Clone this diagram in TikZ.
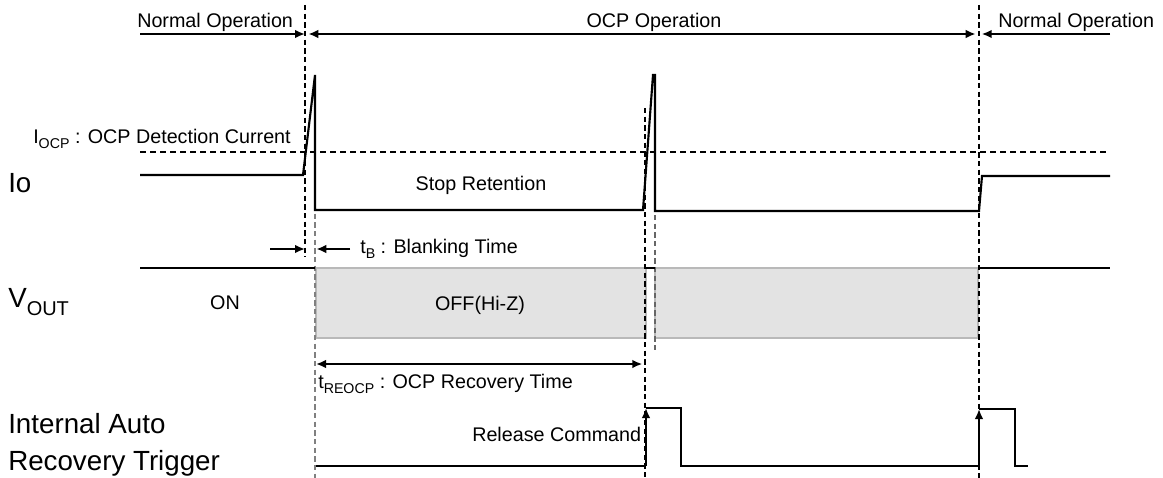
\documentclass[tikz,border=0pt]{standalone}
\usepackage{fontspec}
\setmainfont{Liberation Sans}
\usetikzlibrary{positioning, arrows.meta}

% lowered small text for subscripts
\newcommand{\lowtext}[1]{\raisebox{-0.3em}{\scalebox{0.72}{#1}}}

\begin{document}
\begin{tikzpicture}[
    x=0.75pt, y=-0.75pt,
    >={Latex[length=7.5pt,width=6.5pt]}, % filled arrow tips
    % Styles
    small/.style={ % labels in the diagram
        font=\fontsize{14.8}{17}\selectfont,
        inner sep=0pt
    },
    big/.style={ % signal names on the left
        font=\fontsize{20.8}{25}\selectfont,
        inner sep=0pt
    },
    wave/.style={ % signal lines
        line width=1.6pt
    },
    arrow/.style={ % dimension arrows
        line width=1.6pt
    },
    marker/.style={ % vertical time markers
        line width=0.8pt,
        dash pattern=on 4pt off 2.5pt
    },
    thresh/.style={ % detection level
        line width=0.8pt,
        dash pattern=on 4.5pt off 3pt
    },
    offbox/.style={ % output off region
        fill=gray!22,
        draw=gray!55,
        line width=1pt
    }
]
    \useasboundingbox (0,0) rectangle (1163,478);

    % Time markers
    \coordinate (tA) at (305,0);
    \coordinate (tB) at (315,0);
    \coordinate (tC) at (645,0);
    \coordinate (tD) at (655,0);
    \coordinate (tE) at (979,0);

    % Off regions of the output
    \draw[offbox] (316,268) rectangle (646,338);
    \draw[offbox] (655,268) rectangle (978,338);

    % Dashed marker lines
    \draw[marker] (tA |- 0,5) -- (tA |- 0,257);
    \draw[marker, gray] (tB |- 0,205) -- (tB |- 0,478);
    \draw[marker] (tC |- 0,108) -- (tC |- 0,478);
    \draw[marker, gray!80!black] (tD |- 0,215) -- (tD |- 0,352);
    \draw[marker] (tE |- 0,5) -- (tE |- 0,478);

    % Operation phases
    \node[small, anchor=base west] (normL) at (137,28) {Normal Operation};
    \node[small, anchor=base] (ocpop) at (654,28) {OCP Operation};
    \node[small, anchor=base west] (normR) at (998,28) {Normal Operation};
    \coordinate (phL) at (140,34);
    \coordinate (phR) at (1110,34);
    \draw[arrow, ->] (phL) -- (tA |- phL);
    \draw[arrow, <->] ([xshift=2.5]tA |- phL) -- ([xshift=-2.5]tE |- phL);
    \draw[arrow, ->] (phR) -- ([xshift=2]tE |- phR);

    % Signal names
    \node[big, anchor=base west] (io) at (8,192) {Io};
    \node[big, anchor=base west] (vout) at (8,307) {V\lowtext{OUT}};
    \node[big, anchor=base west] (trigA) at (8,433) {Internal Auto};
    \node[big, anchor=base west] (trigB) at (8,470) {Recovery Trigger};

    % Io
    \draw[thresh] (140,152) -- (1110,152);
    \node[small, anchor=base west] (iocp) at (33,143) {I\lowtext{OCP} : OCP Detection Current};
    \draw[wave] (140,175) -- (303,175) -- (315,75) -- (315,210) -- (643,210)
        -- (653,75) -- (655,75) -- (655,211) -- (979,211) -- (982,176) -- (1110,176);
    \node[small, anchor=base] (stop) at (481,190) {Stop Retention};

    % Blanking time
    \coordinate (blkL) at (270,249);
    \coordinate (blkR) at (350,249);
    \draw[arrow, ->] (blkL) -- (tA |- blkL);
    \draw[arrow, ->] (blkR) -- ([xshift=1]tB |- blkR);
    \node[small, anchor=base west] (blank) at (360,253) {t\lowtext{B} : Blanking Time};

    % VOUT
    \draw[wave] (140,268) -- (315,268);
    \draw[wave] (tC |- 0,268) -- (tD |- 0,268);
    \draw[wave] (979,268) -- (1110,268);
    \node[small, anchor=base] (on) at (225,309) {ON};
    \node[small, anchor=base] (off) at (480,310) {OFF(Hi-Z)};

    % Recovery time
    \coordinate (recL) at (316,364);
    \draw[arrow, <->] (recL) -- ([xshift=-2]tC |- recL);
    \node[small, anchor=base west] (recov) at (318,388) {t\lowtext{REOCP} : OCP Recovery Time};

    % Internal auto recovery trigger
    \draw[wave] (316,466) -- (646,466);
    \draw[wave, ->] (646,466) -- (646,408);
    \draw[wave] (646,408) -- (681,408) -- (681,466) -- (979,466);
    \draw[wave, ->] (979,466) -- (979,409);
    \draw[wave] (979,409) -- (1015,409) -- (1015,466) -- (1028,466);
    \node[small, anchor=base west] (release) at (472,441) {Release Command};

\end{tikzpicture}
\end{document}
